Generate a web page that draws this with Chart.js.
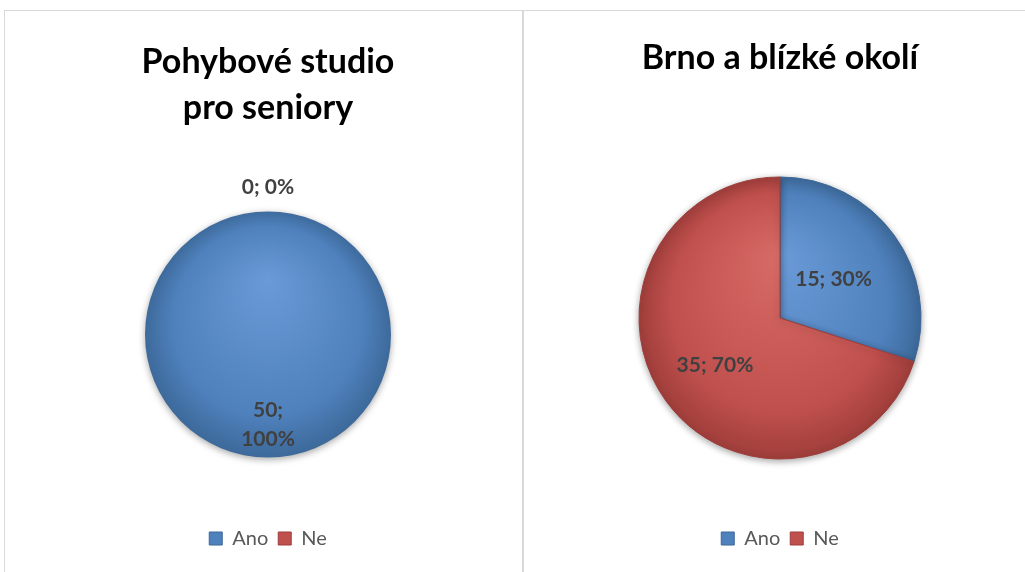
<!DOCTYPE html>
<html>
<head>
<meta charset="utf-8">
<script src="https://cdn.jsdelivr.net/npm/chart.js@4.4.1/dist/chart.umd.min.js"></script>
<style>
body{margin:0;width:1025px;height:572px;overflow:hidden;background:#fff;position:relative}
.panel{position:absolute;top:10px;height:600px;border:1px solid #d9d9d9;box-sizing:border-box}
canvas{position:absolute;top:11px}
</style>
</head>
<body>
<div class="panel" style="left:4px;width:519px"></div>
<div class="panel" style="left:523px;width:540px"></div>
<canvas id="studio" width="526" height="561" style="left:5px"></canvas>
<canvas id="brno" width="508" height="561" style="left:526px"></canvas>
<script>
const categories = ['Ano', 'Ne']
const studioTitle = ['Pohybové studio', 'pro seniory']
const studioValues = [50, 0]
const brnoTitle = 'Brno a blízké okolí'
const brnoValues = [15, 35]

const baseColors = ['#4F81BD', '#C0504D']
const lightColors = ['#6A9BD8', '#D86B67']
const darkColors = ['#3C6898', '#9E3D3A']

// radial shading like the excel 3d look
const shade = (ctx) => {
    const i = ctx.dataIndex
    const chart = ctx.chart
    const area = chart.chartArea
    if (!area) return baseColors[i]
    const r = chart.options.radius
    const cx = (area.left + area.right) / 2
    const cy = (area.top + area.bottom) / 2
    const g = chart.ctx.createRadialGradient(cx, cy - r * 0.45, 0, cx, cy, r * 1.02)
    g.addColorStop(0, lightColors[i])
    g.addColorStop(0.75, baseColors[i])
    g.addColorStop(1, darkColors[i])
    return g
}

// no edge for empty or full slices (otherwise a stray radius line shows)
const edge = (ctx) => {
    const data = ctx.dataset.data
    const total = data.reduce((a, b) => a + b, 0)
    return (ctx.raw === 0 || ctx.raw === total) ? 0 : 1
}

const pieShadow = {
    id: 'pieShadow',
    beforeDatasetsDraw(chart) {
        const c = chart.ctx
        c.save()
        c.shadowColor = 'rgba(0,0,0,0.35)'
        c.shadowBlur = 7
        c.shadowOffsetY = 2
    },
    afterDatasetsDraw(chart) {
        chart.ctx.restore()
    }
}

const sliceLabels = {
    id: 'sliceLabels',
    afterDatasetsDraw(chart, args, opts) {
        const ctx = chart.ctx
        const meta = chart.getDatasetMeta(0)
        const data = chart.data.datasets[0].data
        const total = data.reduce((a, b) => a + b, 0)
        ctx.save()
        ctx.font = 'bold 21px Lato'
        ctx.fillStyle = '#404040'
        ctx.textAlign = 'center'
        ctx.textBaseline = 'middle'
        meta.data.forEach((arc, i) => {
            const p = arc.getProps(['x', 'y', 'startAngle', 'endAngle', 'outerRadius'], true)
            const mid = (p.startAngle + p.endAngle) / 2
            const d = p.outerRadius * opts.dist[i]
            const px = p.x + Math.cos(mid) * d
            const py = p.y + Math.sin(mid) * d
            const pct = Math.round(data[i] / total * 100)
            const lines = opts.wrap[i] ? [data[i] + ';', pct + '%'] : [data[i] + '; ' + pct + '%']
            lines.forEach((t, k) => ctx.fillText(t, px, py + (k - (lines.length - 1) / 2) * 29))
        })
        ctx.restore()
    }
}

const legendLabels = (chart) => {
    const items = Chart.overrides.doughnut.plugins.legend.labels.generateLabels(chart)
    items.forEach((it, i) => {
        it.fillStyle = baseColors[i]
        it.strokeStyle = darkColors[i]
        it.lineWidth = 1
        it.fontColor = '#595959'
    })
    return items
}

const makePie = (id, title, values, radius, titlePad, labelOpts) => {
    return new Chart(document.getElementById(id), {
        type: 'pie',
        data: {
            labels: categories,
            datasets: [{
                data: values,
                backgroundColor: shade,
                borderColor: darkColors,
                borderWidth: edge
            }]
        },
        options: {
            responsive: false,
            animation: false,
            radius: radius,
            layout: { padding: { bottom: 13.5 } },
            plugins: {
                title: {
                    display: true,
                    text: title,
                    color: '#000',
                    font: { family: 'Lato', size: 34, weight: 'bold', lineHeight: '46.5px' },
                    padding: titlePad
                },
                legend: {
                    position: 'bottom',
                    labels: {
                        boxWidth: 13,
                        boxHeight: 13,
                        padding: 10,
                        color: '#595959',
                        font: { family: 'Lato', size: 20 },
                        generateLabels: legendLabels
                    }
                },
                tooltip: { enabled: false },
                sliceLabels: labelOpts
            }
        },
        plugins: [pieShadow, sliceLabels]
    })
}

makePie('studio', studioTitle, studioValues, 123, { top: 27.75, bottom: 18.75 }, { dist: [0.73, 1.2], wrap: [true, false] })
makePie('brno', brnoTitle, brnoValues, 141, { top: 23.75, bottom: 36.25 }, { dist: [0.47, 0.57], wrap: [false, false] })
</script>
</body>
</html>
